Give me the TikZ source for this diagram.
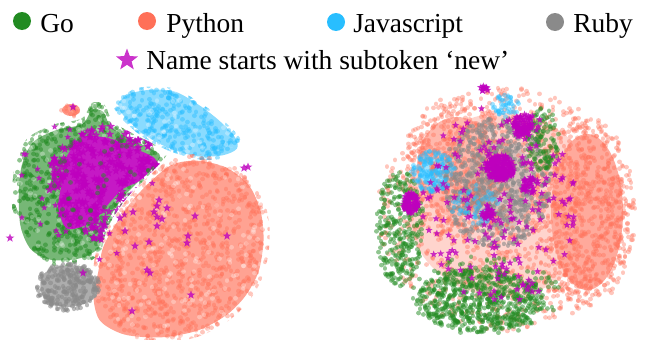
\documentclass[tikz,border=0pt]{standalone}
\usepackage{fontspec}
\setmainfont{Liberation Serif}
\usepackage{tikz}
\usepackage{xcolor}
\definecolor{gocol}{RGB}{34,139,34}
\definecolor{pycol}{RGB}{255,112,88}
\definecolor{jscol}{RGB}{40,190,255}
\definecolor{rbcol}{RGB}{138,138,138}
\definecolor{nwcol}{RGB}{190,0,190}

\tikzset{
	dot/.style={line width=3.5pt,line cap=round},
	godot/.style={dot,draw=gocol,draw opacity=0.5},
	pydot/.style={dot,draw=pycol,draw opacity=0.4},
	jsdot/.style={dot,draw=jscol,draw opacity=0.45},
	rbdot/.style={dot,draw=rbcol,draw opacity=0.6},
	whitedot/.style={dot,draw=white,draw opacity=0.3},
	newstar/.style={fill=nwcol,fill opacity=0.8},
	legtext/.style={font=\fontsize{20.6}{24}\selectfont,inner sep=0,anchor=base west},
}

% random dots (two per path) in an ellipse: count, cx, cy, rx, ry, style
\newcommand{\dotcloud}[6]{%
	\foreach \k in {1,...,#1}{%
		\pgfmathsetmacro{\ca}{360*rnd}%
		\pgfmathsetmacro{\cr}{sqrt(rnd)}%
		\pgfmathsetmacro{\cb}{360*rnd}%
		\pgfmathsetmacro{\cs}{sqrt(rnd)}%
		\draw[#6] ({#2+#4*\cr*cos(\ca)},{#3+#5*\cr*sin(\ca)}) -- ++(0,0.01) ({#2+#4*\cs*cos(\cb)},{#3+#5*\cs*sin(\cb)}) -- ++(0,0.01);
	}}
% one star: size, x, y
\newcommand{\nstar}[3][4.5]{%
	\fill[newstar,shift={(#2,#3)},scale=#1] (-90:1) -- (-54:0.42) -- (-18:1) -- (18:0.42) -- (54:1) -- (90:0.42) -- (126:1) -- (162:0.42) -- (198:1) -- (234:0.42) -- cycle;}
% random stars in an ellipse: count, cx, cy, rx, ry, size
\newcommand{\starcloud}[6]{%
	\foreach \k in {1,...,#1}{%
		\pgfmathsetmacro{\ca}{360*rnd}%
		\pgfmathsetmacro{\cr}{sqrt(rnd)}%
		\pgfmathsetmacro{\sx}{#2+#4*\cr*cos(\ca)}%
		\pgfmathsetmacro{\sy}{#3+#5*\cr*sin(\ca)}%
		\nstar[#6]{\sx}{\sy}
	}}

\begin{document}
\begin{tikzpicture}[x=0.75pt,y=-0.75pt]
	\pgfmathsetseed{7}
	\useasboundingbox (0,0) rectangle (645,339);
	
	%legend
	\fill[gocol] (22,21) circle[radius=9];
		\node[legtext] (golab) at (40,32) {Go};
	\fill[pycol] (147,21) circle[radius=9];
		\node[legtext] (pylab) at (166,32) {Python};
	\fill[jscol] (336,22) circle[radius=9];
		\node[legtext] (jslab) at (353,32) {Javascript};
	\fill[rbcol] (555,22) circle[radius=9];
		\node[legtext] (rblab) at (573,32) {Ruby};
	\nstar[11.5]{127}{60}
		\node[legtext] (nwlab) at (146,69) {Name starts with subtoken ‘new’};
	
	%left plot: Javascript
	\fill[jscol!55,scale around={0.95:(178,123)}] plot[smooth cycle] coordinates {(115,103) (128,92) (150,88) (175,90) (200,104) (222,121) (238,138) (240,150) (225,157) (198,158) (170,150) (145,137) (123,118)};
	\begin{scope}
		\clip[scale around={1.04:(178,123)}] plot[smooth cycle] coordinates {(115,103) (128,92) (150,88) (175,90) (200,104) (222,121) (238,138) (240,150) (225,157) (198,158) (170,150) (145,137) (123,118)};
		\dotcloud{200}{178}{123}{70}{42}{jsdot}
		\dotcloud{30}{178}{123}{68}{40}{whitedot}
	\end{scope}
	
	%left plot: Python
	\fill[pycol!65,scale around={0.96:(180,250)}] plot[smooth cycle] coordinates {(172,161) (198,157) (228,164) (252,183) (264,210) (267,240) (262,272) (248,298) (228,318) (198,334) (160,341) (122,338) (97,324) (90,300) (95,272) (100,247) (113,223) (130,199) (150,178)};
	\begin{scope}
		\clip[scale around={1.03:(180,250)}] plot[smooth cycle] coordinates {(172,161) (198,157) (228,164) (252,183) (264,210) (267,240) (262,272) (248,298) (228,318) (198,334) (160,341) (122,338) (97,324) (90,300) (95,272) (100,247) (113,223) (130,199) (150,178)};
		\dotcloud{500}{180}{250}{95}{100}{pydot}
		\dotcloud{100}{180}{250}{95}{100}{whitedot}
	\end{scope}
	\fill[pycol!70] (71,110) ellipse[x radius=9,y radius=6];
	\dotcloud{6}{71}{110}{10}{7}{pydot}
	
	%left plot: Go with the 'new' names
	\fill[gocol!62,scale around={0.95:(90,185)}] plot[smooth cycle] coordinates {(18,165) (30,140) (55,127) (82,121) (92,106) (104,108) (112,124) (132,136) (150,145) (164,155) (146,176) (124,199) (107,226) (99,251) (80,262) (50,264) (28,253) (17,229) (15,196)};
	\begin{scope}
		\clip[scale around={1.04:(90,185)}] plot[smooth cycle] coordinates {(18,165) (30,140) (55,127) (82,121) (92,106) (104,108) (112,124) (132,136) (150,145) (164,155) (146,176) (124,199) (107,226) (99,251) (80,262) (50,264) (28,253) (17,229) (15,196)};
		\dotcloud{400}{90}{185}{82}{88}{godot}
		\dotcloud{75}{90}{185}{80}{85}{whitedot}
		\fill[nwcol!90,scale around={0.85:(105,180)}] plot[smooth cycle] coordinates {(80,129) (110,131) (140,143) (165,157) (147,180) (127,190) (110,207) (100,220) (83,233) (60,237) (50,213) (53,190) (57,163) (63,147)};
		\starcloud{320}{108}{183}{60}{57}{4.5}
		\dotcloud{30}{108}{185}{58}{55}{godot}
	\end{scope}
	\starcloud{40}{85}{190}{70}{75}{3.5}
	
	%left plot: Ruby
	\fill[rbcol!70] plot[smooth cycle] coordinates {(42,276) (56,267) (80,266) (93,276) (97,294) (87,303) (68,307) (51,303) (41,292)};
	\dotcloud{110}{68}{287}{32}{24}{rbdot}
	
	%left plot: single stars
	\foreach \sx/\sy in {159/200,157/206,167/208,133/212,154/212,157/217,162/219,120/218,157/226,195/216,125/231,149/242,135/246,188/236,187/243,227/236,147/270,150/273,191/295,132/311,83/273,10/238,248/167,244/168,73/107}
		\nstar{\sx}{\sy};
	
	%right plot: base colours
	\fill[pycol!30] (503,205) ellipse[x radius=96,y radius=92];
	\fill[pycol!60] (587,212) ellipse[x radius=36,y radius=78];
	\fill[pycol!50] (457,167) ellipse[x radius=40,y radius=50];
	\fill[rbcol,fill opacity=0.3] (500,185) ellipse[x radius=34,y radius=46];
	\fill[jscol!45] (433,172) ellipse[x radius=14,y radius=13];
	
	%right plot: dots
	\dotcloud{500}{506}{209}{128}{122}{pydot}
	\dotcloud{300}{583}{212}{52}{97}{pydot}
	\dotcloud{190}{458}{168}{56}{72}{pydot}
	\dotcloud{320}{497}{182}{55}{65}{rbdot}
	\dotcloud{300}{480}{300}{64}{32}{godot}
	\dotcloud{80}{485}{295}{75}{40}{godot}
	\dotcloud{150}{400}{228}{24}{58}{godot}
	\dotcloud{60}{543}{140}{16}{32}{godot}
	\dotcloud{80}{433}{172}{22}{21}{jsdot}
	\dotcloud{25}{505}{106}{14}{11}{jsdot}
	\dotcloud{30}{475}{205}{25}{20}{jsdot}
	
	%right plot: stars
	\starcloud{140}{500}{168}{14}{13}{4}
	\starcloud{70}{523}{126}{10}{12}{4}
	\starcloud{60}{411}{203}{8}{10}{4}
	\starcloud{30}{530}{185}{9}{8}{4}
	\starcloud{20}{488}{214}{6}{5}{4}
	\starcloud{10}{484}{89}{4}{3}{4}
	\starcloud{180}{500}{205}{80}{100}{3.8}
\end{tikzpicture}
\end{document}
